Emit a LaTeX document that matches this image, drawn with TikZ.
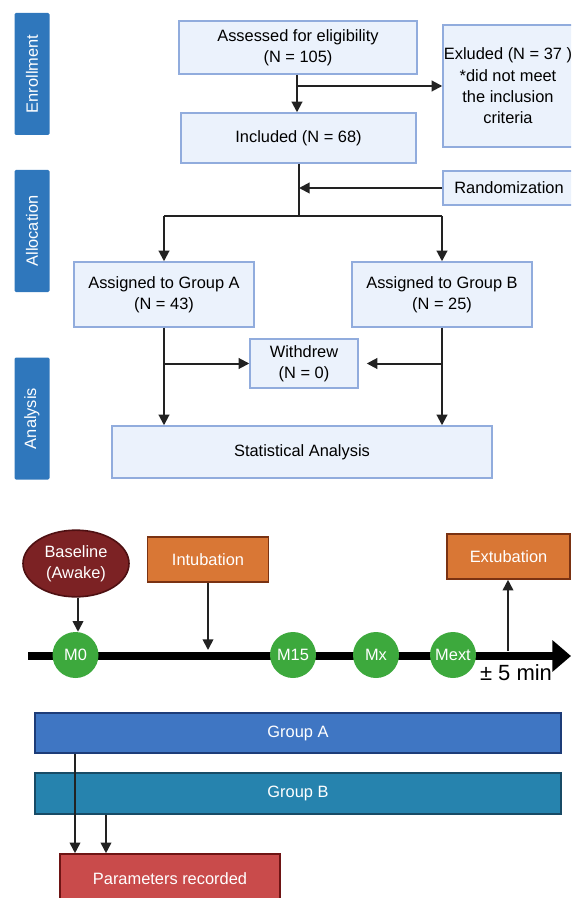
\documentclass[tikz,border=0pt]{standalone}
\usepackage{fontspec}
\setmainfont{Liberation Sans}
\usetikzlibrary{arrows.meta,shapes.geometric,calc}
\definecolor{flowfill}{HTML}{EBF2FC}
\definecolor{flowdraw}{HTML}{91ACDD}
\definecolor{sidebar}{HTML}{2F77BC}
\definecolor{arrowc}{HTML}{222222}
\definecolor{basefill}{HTML}{7C2224}
\definecolor{basedraw}{HTML}{4E1012}
\definecolor{orfill}{HTML}{D97735}
\definecolor{ordraw}{HTML}{7A3212}
\definecolor{grfill}{HTML}{3DA93D}
\definecolor{gafill}{HTML}{3F76C3}
\definecolor{gadraw}{HTML}{1D3C78}
\definecolor{gbfill}{HTML}{2683AE}
\definecolor{gbdraw}{HTML}{184B66}
\definecolor{pfill}{HTML}{C94B4B}
\definecolor{pdraw}{HTML}{6E1414}
\begin{document}
\begin{tikzpicture}[x=0.75pt,y=-0.75pt,
  font=\fontsize{12.3}{16}\selectfont,
  flowbox/.style={draw=flowdraw,fill=flowfill,line width=1.1pt,inner sep=0pt,align=center,text=black},
  sidebox/.style={fill=sidebar,rounded corners=1pt,inner sep=0pt,text=white,rotate=90,minimum width=91.5pt,minimum height=26.25pt},
  arr/.style={draw=arrowc,line width=1.5pt,-{Triangle[length=8pt,width=8pt]}},
  plain/.style={draw=arrowc,line width=1.5pt},
  orbox/.style={draw=ordraw,fill=orfill,line width=1.2pt,inner sep=0pt,text=white,minimum width=91pt,minimum height=33.75pt},
  mcirc/.style={circle,fill=grfill,inner sep=0pt,minimum size=34.5pt,text=white},
  barbox/.style={line width=1.1pt,inner sep=0pt,text=white,minimum width=394.5pt},
]
\useasboundingbox (0,0) rectangle (571,898);
\clip (0,0) rectangle (571,898);
% side bars
\node[sidebox] (enr) at (32,74) {Enrollment};
\node[sidebox] (alc) at (32,231) {Allocation};
\node[sidebox] (ana) at (32,418.5) {Analysis};
% flow boxes
\node[flowbox,minimum width=178.5pt,minimum height=39.75pt] (assess) at (298,47.5) {Assessed for eligibility\\(N = 105)};
\node[flowbox,minimum width=97.5pt,minimum height=91.5pt] (excl) at (508,86) {Exluded (N = 37 )\\*did not meet\\the inclusion\\criteria};
\node[flowbox,minimum width=176.25pt,minimum height=37.5pt] (incl) at (298.5,138) {Included (N = 68)};
\node[flowbox,minimum width=99pt,minimum height=25.5pt] (rand) at (509,188) {Randomization};
\node[flowbox,minimum width=135pt,minimum height=48.75pt] (ga) at (164,294.5) {Assigned to Group A\\(N = 43)};
\node[flowbox,minimum width=135pt,minimum height=48.75pt] (gb) at (442,294.5) {Assigned to Group B\\(N = 25)};
\node[flowbox,minimum width=81pt,minimum height=36.75pt] (wd) at (304,363.5) {Withdrew\\(N = 0)};
\node[flowbox,minimum width=285pt,minimum height=39pt] (stat) at (302,452) {Statistical Analysis};
% flow connectors
\coordinate (j1) at (297,86);
\coordinate (sp) at (299,216);
\draw[arr] (assess.south -| j1) -- (incl.north -| j1);
\draw[arr] (j1) -- (excl.west |- j1);
\draw[plain] (incl.south -| sp) -- (sp);
\draw[arr] (rand.west) -- (rand.west -| sp);
\draw[plain] (sp -| ga) -- (sp -| gb);
\draw[arr] (sp -| ga) -- (ga.north);
\draw[arr] (sp -| gb) -- (gb.north);
\draw[arr] (ga.south) -- (ga.south |- stat.north);
\draw[arr] (ga.south |- wd.west) -- (wd.west);
\draw[arr] (gb.south) -- (gb.south |- stat.north);
\draw[arr,shorten >=6pt] (gb.south |- wd.east) -- (wd.east);
% timeline
\coordinate (ax0) at (28,656);
\coordinate (ax1) at (571,656);
\draw[draw=black,line width=5.5pt,-{Triangle[length=14pt,width=23pt]}] (ax0) -- (ax1);
\node[mcirc] (m0) at (75.5,655) {M0};
\node[mcirc] (m15) at (293,655) {M15};
\node[mcirc] (mx) at (376,655) {Mx};
\node[mcirc] (mext) at (453,655) {Mext};
\node[ellipse,draw=basedraw,fill=basefill,line width=1.2pt,inner sep=0pt,minimum width=79.5pt,minimum height=50pt,text=white,align=center] (base) at (76,563.5) {Baseline\\(Awake)};
\node[orbox] (intub) at (208,559.5) {Intubation};
\node[orbox,minimum width=92.25pt] (extub) at (508.5,556.5) {Extubation};
\node[font=\fontsize{16.5}{18}\selectfont,inner sep=0pt] (pm) at (516,673) {± 5 min};
\coordinate (intubend) at (208,650);
\coordinate (extubstart) at (508,651);
\coordinate (bx) at (78,0);
\draw[arr,line width=1.3pt] (base.south -| bx) -- (m0.north -| bx);
\draw[arr,line width=1.3pt] (intub.south) -- (intubend);
\draw[arr,line width=1.3pt] (extubstart) -- (extub.south -| extubstart);
% group bars
\node[barbox,draw=gadraw,fill=gafill,minimum height=30pt] (barA) at (298,733) {Group A};
\node[barbox,draw=gbdraw,fill=gbfill,minimum height=30.75pt] (barB) at (298,793.5) {Group B};
\node[draw=pdraw,fill=pfill,line width=1.2pt,inner sep=0pt,text=white,minimum width=165pt,minimum height=37.5pt] (par) at (170,879) {Parameters recorded};
\coordinate (pa) at (75,0);
\coordinate (pb) at (106,0);
\draw[arr,line width=1.3pt] (barA.south -| pa) -- (par.north -| pa);
\draw[arr,line width=1.3pt] (barB.south -| pb) -- (par.north -| pb);
\end{tikzpicture}
\end{document}
